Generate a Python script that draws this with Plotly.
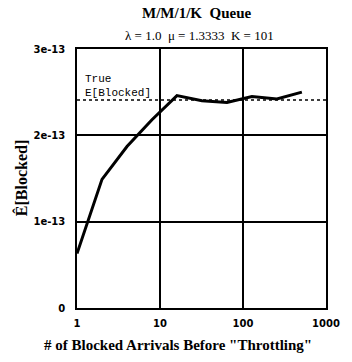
import plotly.graph_objects as go

arrivals = [1, 2, 4, 8, 16, 32, 64, 128, 256, 512]
est_blocked = [0.63e-13, 1.49e-13, 1.87e-13, 2.18e-13, 2.46e-13, 2.40e-13, 2.38e-13, 2.45e-13, 2.42e-13, 2.50e-13]
true_blocked = 2.41e-13
x_ticks = [1, 10, 100, 1000]
x_tick_text = ["1", "10", "100", "1000"]
y_ticks = [0, 1e-13, 2e-13, 3e-13]
y_tick_text = ["0", "1e-13", "2e-13", "3e-13"]

serif = "Liberation Serif"
fig = go.Figure()
fig.add_trace(go.Scatter(x=[1, 1000], y=[true_blocked, true_blocked], mode="lines",
                         line=dict(color="black", width=1.5, dash="dot"), showlegend=False))
fig.add_trace(go.Scatter(x=arrivals, y=est_blocked, mode="lines",
                         line=dict(color="black", width=3), showlegend=False))

axis_common = dict(showgrid=True, gridcolor="black", gridwidth=1.5, showline=True,
                   linecolor="black", linewidth=1.5, mirror=True, zeroline=False, ticks="",
                   tickfont=dict(family="DejaVu Sans", size=10, color="black", weight="bold"))
fig.update_xaxes(type="log", range=[0, 3], tickvals=x_ticks, ticktext=x_tick_text,
                 ticklabelstandoff=5, **axis_common)
fig.update_yaxes(range=[0, 3e-13], tickvals=y_ticks, ticktext=y_tick_text,
                 ticklabelstandoff=8, **axis_common)

fig.update_layout(
    width=352, height=362, margin=dict(l=77, r=14, t=49, b=54),
    plot_bgcolor="white", paper_bgcolor="white",
    annotations=[
        dict(text="<b>M/M/1/K  Queue</b>", x=0.479, y=1.0, xref="paper", yref="paper", showarrow=False,
             font=dict(family=serif, size=15, color="black"), xanchor="center", yanchor="middle",
             yshift=36),
        dict(text="λ = 1.0  μ = 1.3333  K = 101", xref="paper", yref="paper", x=0.49, y=1.0,
             showarrow=False, font=dict(family=serif, size=13, color="black"), xanchor="center",
             yanchor="middle", yshift=14),
        dict(text="True<br>E[Blocked]", xref="paper", yref="paper", x=0.025, y=0.915, showarrow=False,
             align="left", xanchor="left", yanchor="top",
             font=dict(family="Liberation Mono", size=11, color="black")),
        dict(text="<b>Ê[Blocked]</b>", xref="paper", yref="paper", x=-0.226, y=0.5, textangle=-90,
             showarrow=False, font=dict(family=serif, size=16, color="black"), xanchor="center", yanchor="middle"),
        dict(text="<b># of Blocked Arrivals Before \"Throttling\"</b>", xref="paper", yref="paper",
             x=0.405, y=-0.143, showarrow=False, font=dict(family=serif, size=15, color="black"),
             xanchor="center", yanchor="middle"),
    ],
)
fig.write_html("out.html")
